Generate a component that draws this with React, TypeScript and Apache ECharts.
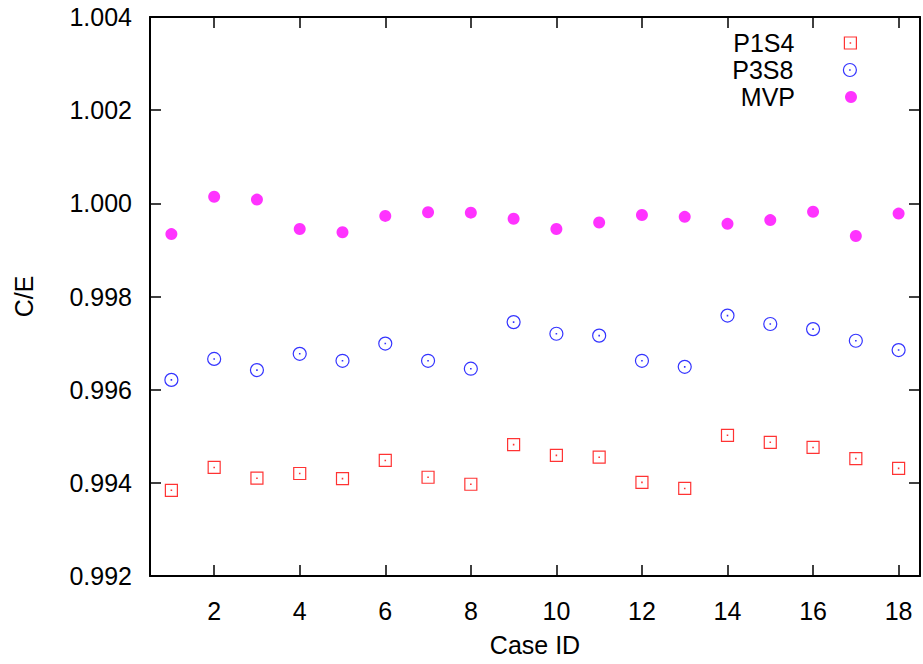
import React, { useEffect, useRef } from "react";
import * as echarts from "echarts";

const caseIds = [1, 2, 3, 4, 5, 6, 7, 8, 9, 10, 11, 12, 13, 14, 15, 16, 17, 18];
const p1s4 = [0.99384, 0.99433, 0.9941, 0.9942, 0.99409, 0.99448, 0.99412, 0.99397, 0.99482, 0.99459, 0.99455, 0.99401, 0.99388, 0.99502, 0.99487, 0.99476, 0.99452, 0.99431];
const p3s8 = [0.99621, 0.99666, 0.99642, 0.99677, 0.99662, 0.99699, 0.99662, 0.99645, 0.99745, 0.9972, 0.99716, 0.99662, 0.99649, 0.99759, 0.99741, 0.9973, 0.99705, 0.99685];
const mvp = [0.99934, 1.00014, 1.00008, 0.99945, 0.99938, 0.99973, 0.99981, 0.9998, 0.99967, 0.99945, 0.99959, 0.99975, 0.99971, 0.99956, 0.99964, 0.99982, 0.9993, 0.99978];
const xTickValues = [2, 4, 6, 8, 10, 12, 14, 16, 18];
const seriesNames = ["P1S4", "P3S8", "MVP"];

const FONT = "'Liberation Sans', Arial, Helvetica, sans-serif";
const SQUARE_SYMBOL = "path://M0 0H10V10H0Z M4.85 4.85H5.15V5.15H4.85Z";
const CIRCLE_SYMBOL = "path://M10 5A5 5 0 1 1 0 5A5 5 0 1 1 10 5Z M4.85 4.85H5.15V5.15H4.85Z";

export default function App() {
  const ref = useRef<HTMLDivElement>(null);
  useEffect(() => {
    if (!ref.current) return;
    const chart = echarts.init(ref.current, undefined, { renderer: "svg" });
    const toData = (vals: number[]) => caseIds.map((c, i) => [c, vals[i]]);
    const axisLine = { show: true, onZero: false, lineStyle: { color: "#000", width: 2 } };
    const tick = { show: true, inside: true, length: 11, lineStyle: { color: "#000", width: 1.5 } };
    const legendBase = {
      orient: "vertical" as const,
      align: "right" as const,
      right: 66,
      padding: 0,
      itemGap: 0,
      selectedMode: false,
      itemStyle: { borderWidth: 1.2 },
      textStyle: { fontFamily: FONT, fontSize: 25, color: "#000", lineHeight: 26, padding: [0, 45, 0, 0] },
    };
    chart.setOption({
      animation: false,
      backgroundColor: "#fff",
      grid: { left: 150, right: 3, top: 17, bottom: 88, containLabel: false },
      legend: [
        { ...legendBase, top: 30, itemWidth: 12, itemHeight: 12, data: [seriesNames[0]] },
        { ...legendBase, top: 57, itemWidth: 13, itemHeight: 13, data: [seriesNames[1]] },
        { ...legendBase, top: 84, itemWidth: 12, itemHeight: 12, itemStyle: { borderWidth: 0 }, data: [seriesNames[2]] },
      ],
      xAxis: [
        {
          type: "value",
          position: "bottom",
          min: 0.5,
          max: 18.5,
          name: "Case ID",
          nameLocation: "middle",
          nameGap: 56,
          nameTextStyle: { fontFamily: FONT, fontSize: 25, color: "#000" },
          axisLine,
          axisTick: { ...tick, customValues: xTickValues },
          axisLabel: { customValues: xTickValues, margin: 22, fontFamily: FONT, fontSize: 25, color: "#000" },
          splitLine: { show: false },
        },
        {
          type: "value",
          position: "top",
          min: 0.5,
          max: 18.5,
          axisLine,
          axisTick: { ...tick, customValues: xTickValues },
          axisLabel: { show: false },
          splitLine: { show: false },
        },
      ],
      yAxis: [
        {
          type: "value",
          position: "left",
          min: 0.992,
          max: 1.004,
          interval: 0.002,
          name: "C/E",
          nameLocation: "middle",
          nameGap: 114,
          nameTextStyle: { fontFamily: FONT, fontSize: 25, color: "#000" },
          axisLine,
          axisTick: tick,
          axisLabel: {
            margin: 18,
            fontFamily: FONT,
            fontSize: 25,
            color: "#000",
            formatter: (v: number) => v.toFixed(3),
          },
          splitLine: { show: false },
        },
        {
          type: "value",
          position: "right",
          min: 0.992,
          max: 1.004,
          interval: 0.002,
          axisLine,
          axisTick: tick,
          axisLabel: { show: false },
          splitLine: { show: false },
        },
      ],
      series: [
        {
          name: seriesNames[0],
          type: "scatter",
          symbol: SQUARE_SYMBOL,
          symbolSize: 12,
          itemStyle: { color: "#fff", borderColor: "#ff0000", borderWidth: 1.2 },
          data: toData(p1s4),
        },
        {
          name: seriesNames[1],
          type: "scatter",
          symbol: CIRCLE_SYMBOL,
          symbolSize: 13,
          itemStyle: { color: "#fff", borderColor: "#0000ff", borderWidth: 1.2 },
          data: toData(p3s8),
        },
        {
          name: seriesNames[2],
          type: "scatter",
          symbol: "circle",
          symbolSize: 12,
          itemStyle: { color: "#ff00ff", borderWidth: 0 },
          data: toData(mvp),
        },
      ],
    });
    return () => chart.dispose();
  }, []);
  return <div ref={ref} style={{ position: "fixed", left: 0, top: 0, width: 923, height: 664 }} />;
}
